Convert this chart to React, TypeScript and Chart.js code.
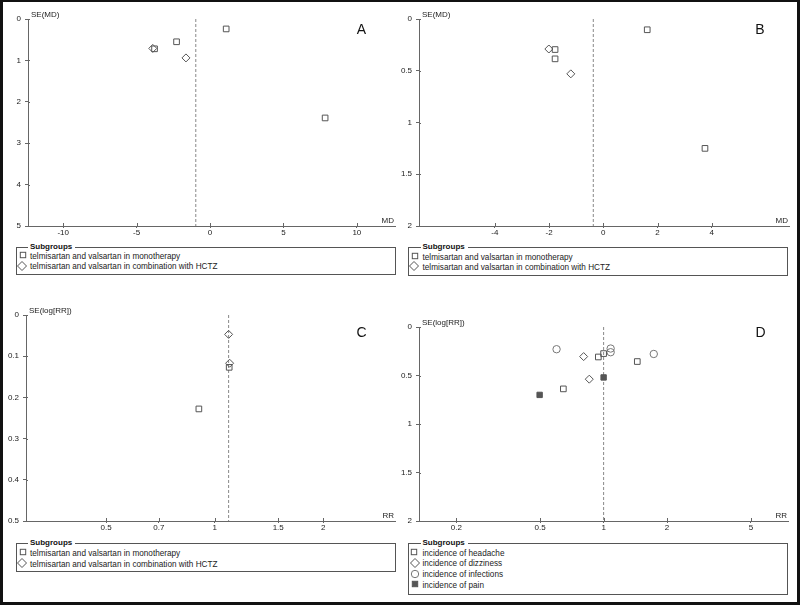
import React, { useEffect, useRef } from "react";
import { Chart, registerables } from "chart.js";

Chart.register(...registerables);

// ---------- Panel A (MD, SE(MD)) ----------
const aMonoMD = [1.1, -2.28, -3.78, 7.84];
const aMonoSE = [0.24, 0.55, 0.72, 2.39];
const aHctzMD = [-3.9, -1.64];
const aHctzSE = [0.71, 0.94];
const aPooledMD = -0.97;
const aXTicks = [-10, -5, 0, 5, 10];
const aYTicks = [0, 1, 2, 3, 4, 5];

// ---------- Panel B (MD, SE(MD)) ----------
const bMonoMD = [1.62, -1.78, -1.78, 3.75];
const bMonoSE = [0.104, 0.295, 0.385, 1.25];
const bHctzMD = [-2.01, -1.2];
const bHctzSE = [0.29, 0.53];
const bPooledMD = -0.37;
const bXTicks = [-4, -2, 0, 2, 4];
const bYTicks = [0, 0.5, 1, 1.5, 2];

// ---------- Panel C (RR, SE(log[RR])) ----------
const cMonoRR = [1.097, 0.904];
const cMonoSE = [0.127, 0.228];
const cHctzRR = [1.093, 1.1];
const cHctzSE = [0.047, 0.117];
const cPooledRR = 1.093;
const cXTicks = [0.5, 0.7, 1, 1.5, 2];
const cYTicks = [0, 0.1, 0.2, 0.3, 0.4, 0.5];

// ---------- Panel D (RR, SE(log[RR])) ----------
const dHeadacheRR = [0.944, 1.0, 1.445, 0.644];
const dHeadacheSE = [0.309, 0.274, 0.356, 0.638];
const dDizzinessRR = [0.804, 0.855];
const dDizzinessSE = [0.305, 0.538];
const dInfectionRR = [0.598, 1.08, 1.08, 1.73];
const dInfectionSE = [0.229, 0.222, 0.26, 0.278];
const dPainRR = [1.0, 0.497];
const dPainSE = [0.52, 0.7];
const dPooledRR = 1.0;
const dXTicks = [0.2, 0.5, 1, 2, 5];
const dYTicks = [0, 0.5, 1, 1.5, 2];

// legend labels
const subgroupsTitle = "Subgroups";
const abcLabels = [
  "telmisartan and valsartan in monotherapy",
  "telmisartan and valsartan in combination with HCTZ",
];
const dLabels = [
  "incidence of headache",
  "incidence of dizziness",
  "incidence of infections",
  "incidence of pain",
];

const FONT = '"Liberation Sans", Arial, Helvetica, sans-serif';
const MARK = "#555";
const CIRC = "#777";
const NOFILL = "rgba(0,0,0,0)";

const pts = (xs: number[], ys: number[]) => xs.map((x, i) => ({ x, y: ys[i] }));

const markerDs = (label: string, xs: number[], ys: number[], style: string, color: string, fill: string, r = 4) => ({
  label,
  data: pts(xs, ys),
  showLine: false,
  pointStyle: style,
  pointRadius: r,
  pointHoverRadius: r,
  pointBorderWidth: 1,
  pointBorderColor: color,
  pointBackgroundColor: fill,
  borderColor: color,
  backgroundColor: fill,
});

const pooledDs = (x: number, yMax: number) => ({
  label: "pooled",
  data: [
    { x, y: 0 },
    { x, y: yMax },
  ],
  showLine: true,
  borderColor: "#888",
  borderWidth: 1,
  borderDash: [3, 2],
  pointRadius: 0,
  pointHoverRadius: 0,
  fill: false,
});

const panelTextPlugin = {
  id: "panelText",
  afterDraw(chart: any, _args: any, opts: any) {
    const { ctx, chartArea } = chart;
    ctx.save();
    // inward tick halves
    ctx.strokeStyle = "#666";
    ctx.lineWidth = 1;
    ctx.beginPath();
    const xs = chart.scales.x;
    const ys = chart.scales.y;
    xs.ticks.forEach((t: any) => {
      const px = Math.round(xs.getPixelForValue(t.value)) + 0.5;
      ctx.moveTo(px, chartArea.bottom);
      ctx.lineTo(px, chartArea.bottom - 3);
    });
    ys.ticks.forEach((t: any) => {
      const py = Math.round(ys.getPixelForValue(t.value)) + 0.5;
      ctx.moveTo(chartArea.left, py);
      ctx.lineTo(chartArea.left + 2, py);
    });
    ctx.stroke();

    ctx.fillStyle = "#222";
    ctx.font = `8px ${FONT}`;
    ctx.textBaseline = "middle";
    ctx.textAlign = "left";
    ctx.fillText(opts.yTitle, chartArea.left + 3, chartArea.top - 4.5);
    ctx.textAlign = "right";
    ctx.fillText(opts.xTitle, chartArea.right - 1, chartArea.bottom - 5.5);
    ctx.font = `14px ${FONT}`;
    ctx.textAlign = "center";
    ctx.fillStyle = "#111";
    ctx.fillText(opts.letter, opts.letterX, opts.letterY);
    ctx.restore();
  },
};

type PanelDef = {
  left: number;
  top: number;
  width: number;
  height: number;
  area: { left: number; top: number; right: number; bottom: number };
  xType: string;
  xMin: number;
  xMax: number;
  xTicks: number[];
  yMax: number;
  yTicks: number[];
  yTitle: string;
  xTitle: string;
  letter: string;
  letterX: number;
  letterY: number;
  datasets: any[];
};

const panels: PanelDef[] = [
  {
    left: 0, top: 0, width: 400, height: 240,
    area: { left: 28, top: 19, right: 397, bottom: 226 },
    xType: "linear", xMin: -12.4, xMax: 12.6, xTicks: aXTicks,
    yMax: 5, yTicks: aYTicks,
    yTitle: "SE(MD)", xTitle: "MD", letter: "A", letterX: 361.5, letterY: 30.5,
    datasets: [
      markerDs(abcLabels[0], aMonoMD, aMonoSE, "rect", MARK, NOFILL),
      markerDs(abcLabels[1], aHctzMD, aHctzSE, "rectRot", MARK, NOFILL),
      pooledDs(aPooledMD, 5),
    ],
  },
  {
    left: 400, top: 0, width: 400, height: 240,
    area: { left: 419, top: 19, right: 789, bottom: 226 },
    xType: "linear", xMin: -6.8, xMax: 6.85, xTicks: bXTicks,
    yMax: 2, yTicks: bYTicks,
    yTitle: "SE(MD)", xTitle: "MD", letter: "B", letterX: 360, letterY: 30.5,
    datasets: [
      markerDs(abcLabels[0], bMonoMD, bMonoSE, "rect", MARK, NOFILL),
      markerDs(abcLabels[1], bHctzMD, bHctzSE, "rectRot", MARK, NOFILL),
      pooledDs(bPooledMD, 2),
    ],
  },
  {
    left: 0, top: 300, width: 400, height: 236,
    area: { left: 26, top: 315, right: 397, bottom: 521 },
    xType: "logarithmic", xMin: 0.316, xMax: 3.16, xTicks: cXTicks,
    yMax: 0.5, yTicks: cYTicks,
    yTitle: "SE(log[RR])", xTitle: "RR", letter: "C", letterX: 361.5, letterY: 33.5,
    datasets: [
      markerDs(abcLabels[0], cMonoRR, cMonoSE, "rect", MARK, NOFILL),
      markerDs(abcLabels[1], cHctzRR, cHctzSE, "rectRot", MARK, NOFILL),
      pooledDs(cPooledRR, 0.5),
    ],
  },
  {
    left: 400, top: 300, width: 400, height: 236,
    area: { left: 419, top: 327, right: 788, bottom: 521 },
    xType: "logarithmic", xMin: 0.133, xMax: 7.5, xTicks: dXTicks,
    yMax: 2, yTicks: dYTicks,
    yTitle: "SE(log[RR])", xTitle: "RR", letter: "D", letterX: 360.5, letterY: 33.5,
    datasets: [
      markerDs(dLabels[0], dHeadacheRR, dHeadacheSE, "rect", MARK, NOFILL),
      markerDs(dLabels[1], dDizzinessRR, dDizzinessSE, "rectRot", MARK, NOFILL),
      markerDs(dLabels[2], dInfectionRR, dInfectionSE, "circle", CIRC, NOFILL, 3.7),
      markerDs(dLabels[3], dPainRR, dPainSE, "rect", MARK, MARK, 3.8),
      pooledDs(dPooledRR, 2),
    ],
  },
];

function Panel({ def }: { def: PanelDef }) {
  const ref = useRef<HTMLCanvasElement>(null);
  useEffect(() => {
    const a = def.area;
    const yW = a.left - def.left;
    const padTop = a.top - def.top;
    const padRight = def.left + def.width - a.right;
    const xH = def.top + def.height - a.bottom;
    const tickFont = { family: FONT, size: 8 };
    const chart = new Chart(ref.current as HTMLCanvasElement, {
      type: "scatter",
      data: { datasets: def.datasets },
      options: {
        animation: false,
        responsive: false,
        maintainAspectRatio: false,
        devicePixelRatio: 1,
        events: [],
        layout: { padding: { left: 0, top: padTop, right: padRight, bottom: 0 } },
        plugins: {
          legend: { display: false },
          tooltip: { enabled: false },
          title: { display: false },
          panelText: {
            yTitle: def.yTitle,
            xTitle: def.xTitle,
            letter: def.letter,
            letterX: def.letterX,
            letterY: def.letterY,
          },
        } as any,
        scales: {
          x: {
            type: def.xType as any,
            min: def.xMin,
            max: def.xMax,
            afterBuildTicks: (s: any) => {
              s.ticks = def.xTicks.map((v) => ({ value: v }));
            },
            afterFit: (s: any) => {
              s.height = xH;
            },
            ticks: {
              callback: (v: any) => String(v),
              font: tickFont,
              color: "#222",
              padding: 0,
              maxRotation: 0,
              autoSkip: false,
            },
            grid: { display: true, drawOnChartArea: false, drawTicks: true, tickLength: 2, color: "#666" },
            border: { display: true, color: "#666", width: 1 },
          },
          y: {
            type: "linear",
            reverse: true,
            min: 0,
            max: def.yMax,
            afterBuildTicks: (s: any) => {
              s.ticks = def.yTicks.map((v) => ({ value: v }));
            },
            afterFit: (s: any) => {
              s.width = yW;
            },
            ticks: {
              callback: (v: any) => String(v),
              font: tickFont,
              color: "#222",
              padding: 4,
              autoSkip: false,
            },
            grid: { display: true, drawOnChartArea: false, drawTicks: true, tickLength: 3, color: "#666" },
            border: { display: true, color: "#666", width: 1 },
          },
        } as any,
      } as any,
      plugins: [panelTextPlugin as any],
    });
    return () => chart.destroy();
  }, [def]);
  return (
    <canvas
      ref={ref}
      width={def.width}
      height={def.height}
      style={{ position: "absolute", left: def.left, top: def.top, width: def.width, height: def.height }}
    />
  );
}

type LegendItem = { label: string; marker: string; y: number; mx: number; my: number };
type LegendDef = { left: number; top: number; width: number; height: number; titleX: number; textX: number; items: LegendItem[] };

const legends: LegendDef[] = [
  {
    left: 16, top: 247, width: 380, height: 28, titleX: 30, textX: 30,
    items: [
      { label: abcLabels[0], marker: "square", y: 257, mx: 23, my: 255 },
      { label: abcLabels[1], marker: "diamond", y: 267, mx: 21.5, my: 265.5 },
    ],
  },
  {
    left: 408, top: 247, width: 380, height: 29, titleX: 422.5, textX: 422.5,
    items: [
      { label: abcLabels[0], marker: "square", y: 257.5, mx: 415, my: 255.5 },
      { label: abcLabels[1], marker: "diamond", y: 267.5, mx: 413.5, my: 266 },
    ],
  },
  {
    left: 16, top: 543, width: 380, height: 28.5, titleX: 30, textX: 30,
    items: [
      { label: abcLabels[0], marker: "square", y: 554, mx: 23, my: 552 },
      { label: abcLabels[1], marker: "diamond", y: 564.5, mx: 21.5, my: 563 },
    ],
  },
  {
    left: 408, top: 543, width: 380, height: 52, titleX: 422.5, textX: 422.5,
    items: [
      { label: dLabels[0], marker: "square", y: 553.7, mx: 414.2, my: 551.8 },
      { label: dLabels[1], marker: "diamond", y: 564.3, mx: 415, my: 563.3 },
      { label: dLabels[2], marker: "circle", y: 575, mx: 415, my: 573.7 },
      { label: dLabels[3], marker: "filled", y: 586, mx: 415, my: 584.2 },
    ],
  },
];

function Marker({ kind, x, y }: { kind: string; x: number; y: number }) {
  const s = 12;
  let shape: any = null;
  const c = s / 2;
  if (kind === "square") shape = <rect x={c - 2.7} y={c - 2.7} width={5.4} height={5.4} fill="none" stroke={MARK} strokeWidth={1} />;
  if (kind === "filled") shape = <rect x={c - 2.7} y={c - 2.7} width={5.4} height={5.4} fill={MARK} stroke={MARK} strokeWidth={1} />;
  if (kind === "diamond")
    shape = <polygon points={`${c - 4.5},${c} ${c},${c - 4.5} ${c + 4.5},${c} ${c},${c + 4.5}`} fill="none" stroke={MARK} strokeWidth={1} />;
  if (kind === "circle") shape = <circle cx={c} cy={c} r={3.7} fill="none" stroke={CIRC} strokeWidth={1} />;
  return (
    <svg width={s} height={s} style={{ position: "absolute", left: x - c, top: y - c, overflow: "visible" }}>
      {shape}
    </svg>
  );
}

function LegendBox({ def }: { def: LegendDef }) {
  return (
    <>
      <div
        style={{
          position: "absolute",
          left: def.left,
          top: def.top,
          width: def.width,
          height: def.height,
          border: "1px solid #555",
          boxSizing: "border-box",
        }}
      />
      <div
        style={{
          position: "absolute",
          left: def.titleX - 2,
          top: def.top - 5,
          height: 10,
          lineHeight: "10px",
          padding: "0 3px 0 2px",
          background: "#fff",
          fontFamily: FONT,
          fontSize: 8,
          fontWeight: "bold",
          color: "#111",
          whiteSpace: "nowrap",
        }}
      >
        {subgroupsTitle}
      </div>
      {def.items.map((it, i) => (
        <React.Fragment key={i}>
          <Marker kind={it.marker} x={it.mx} y={it.my} />
          <div
            style={{
              position: "absolute",
              left: def.textX,
              top: it.y - 5,
              height: 10,
              lineHeight: "10px",
              fontFamily: FONT,
              fontSize: 8.2,
              color: "#222",
              whiteSpace: "nowrap",
            }}
          >
            {it.label}
          </div>
        </React.Fragment>
      ))}
    </>
  );
}

export default function App() {
  return (
    <div
      style={{
        position: "fixed",
        left: 0,
        top: 0,
        width: 800,
        height: 605,
        background: "#fff",
        overflow: "hidden",
      }}
    >
      {panels.map((p, i) => (
        <Panel key={i} def={p} />
      ))}
      {legends.map((l, i) => (
        <LegendBox key={i} def={l} />
      ))}
      <div
        style={{
          position: "absolute",
          left: 0,
          top: 0,
          width: 800,
          height: 605,
          boxSizing: "border-box",
          borderStyle: "solid",
          borderColor: "#111",
          borderWidth: "2px 3px 3px 3px",
          pointerEvents: "none",
        }}
      />
    </div>
  );
}
